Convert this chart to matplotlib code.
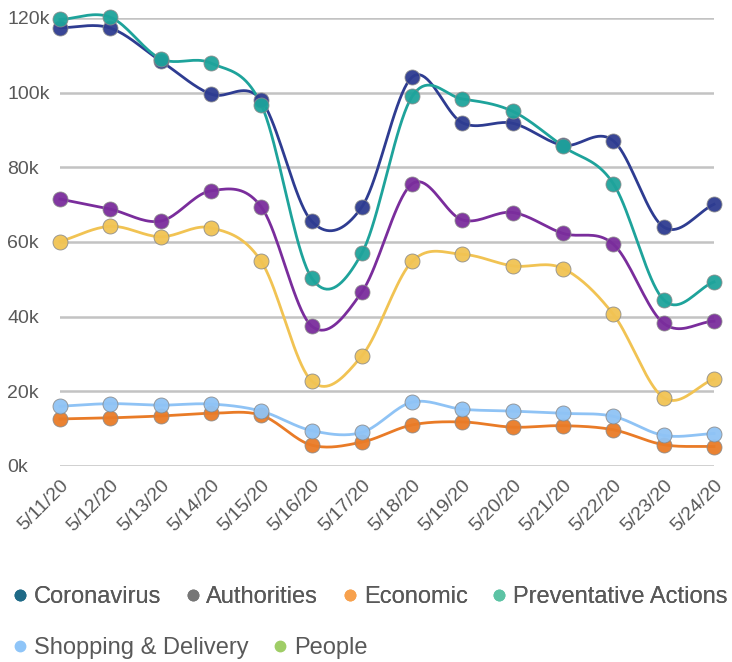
import numpy as np
import matplotlib.pyplot as plt
from matplotlib.lines import Line2D

plt.rcParams['font.family'] = ['Liberation Sans', 'DejaVu Sans']

# ---- data ----
dates = ["5/11/20", "5/12/20", "5/13/20", "5/14/20", "5/15/20", "5/16/20", "5/17/20",
         "5/18/20", "5/19/20", "5/20/20", "5/21/20", "5/22/20", "5/23/20", "5/24/20"]

coronavirus = [117.4, 117.3, 108.5, 99.6, 98.0, 65.6, 69.4, 104.2, 91.9, 91.8, 85.9, 87.1, 64.0, 70.1]
authorities = [71.5, 68.8, 65.6, 73.7, 69.4, 37.5, 46.6, 75.6, 65.9, 67.9, 62.3, 59.4, 38.2, 38.8]
economic = [12.6, 12.9, 13.4, 14.1, 13.6, 5.6, 6.4, 11.0, 11.8, 10.4, 10.8, 9.7, 5.7, 5.2]
preventative = [119.6, 120.2, 109.1, 107.9, 96.8, 50.4, 57.0, 99.0, 98.3, 95.0, 85.6, 75.6, 44.5, 49.3]
shopping = [16.0, 16.7, 16.3, 16.6, 14.7, 9.5, 9.0, 17.1, 15.2, 14.7, 14.1, 13.3, 8.2, 8.7]
people = [60.1, 64.2, 61.4, 63.8, 54.8, 22.8, 29.5, 54.8, 56.7, 53.6, 52.9, 40.6, 18.3, 23.3]

legend_names = ["Coronavirus", "Authorities", "Economic", "Preventative Actions",
                "Shopping & Delivery", "People"]
legend_colors = ["#1f6a87", "#767676", "#f7a14d", "#5cc3a4", "#8fc5f8", "#9fcd66"]

# line colours (drawn order)
series = [
    (economic, "#e97b27"),
    (shopping, "#8fc3f5"),
    (people, "#f1c353"),
    (authorities, "#7a2d9c"),
    (coronavirus, "#2e3c91"),
    (preventative, "#1ea39b"),
]


def smooth(xs, ys, steps=20):
    # catmull-rom curve through the points
    xs = np.asarray(xs, float)
    ys = np.asarray(ys, float)
    px = np.concatenate([[2 * xs[0] - xs[1]], xs, [2 * xs[-1] - xs[-2]]])
    py = np.concatenate([[2 * ys[0] - ys[1]], ys, [2 * ys[-1] - ys[-2]]])
    outx, outy = [], []
    t = np.linspace(0, 1, steps, endpoint=False)
    for i in range(1, len(px) - 2):
        for p, out in ((px, outx), (py, outy)):
            p0, p1, p2, p3 = p[i - 1], p[i], p[i + 1], p[i + 2]
            out.extend(0.5 * ((2 * p1) + (-p0 + p2) * t
                              + (2 * p0 - 5 * p1 + 4 * p2 - p3) * t ** 2
                              + (-p0 + 3 * p1 - 3 * p2 + p3) * t ** 3))
    outx.append(xs[-1])
    outy.append(ys[-1])
    return np.array(outx), np.array(outy)


W, H = 732, 662
fig = plt.figure(figsize=(W / 100, H / 100), dpi=100)
ax = fig.add_axes([60 / W, 1 - 466 / H, (714 - 60) / W, (466 - 18) / H])

x = np.arange(len(dates))
for vals, col in series:
    y = np.array(vals) * 1000
    sx, sy = smooth(x, y)
    ax.plot(sx, sy, color=col, lw=2.0, clip_on=False, zorder=3)
    ax.plot(x, y, 'o', color=col, ms=10.8, mec="#8a8a8a", mew=0.6, alpha=0.95,
            clip_on=False, zorder=4)

ax.set_xlim(0, len(dates) - 1)
ax.set_ylim(0, 120000)
ax.set_yticks(np.arange(0, 120001, 20000))
ax.set_yticklabels([f"{v // 1000}k" for v in range(0, 120001, 20000)])
ax.grid(axis='y', color="#c3c3c3", lw=1.8)
ax.set_axisbelow(True)
for s in ax.spines.values():
    s.set_visible(False)
ax.tick_params(axis='y', length=0, pad=38, labelsize=14, labelcolor="#595959")
for lab in ax.get_yticklabels():
    lab.set_horizontalalignment('left')
ax.set_xticks(x)
ax.set_xticklabels(dates, rotation=45, ha='right', rotation_mode='anchor')
ax.tick_params(axis='x', length=0, pad=8, labelsize=14, labelcolor="#595959")

handles = [Line2D([], [], ls='none', marker='o', ms=7.5, color=c) for c in legend_colors]
common = dict(frameon=False, fontsize=17, handlelength=0.7, handletextpad=0.22,
              columnspacing=1.0, labelcolor="#595959", borderpad=0, borderaxespad=0,
              loc='center left')
leg1 = fig.legend(handles[:4], legend_names[:4], ncol=4,
                  bbox_to_anchor=(12 / W, 1 - 597 / H), **common)
fig.add_artist(leg1)
fig.legend(handles[4:], legend_names[4:], ncol=2,
           bbox_to_anchor=(12 / W, 1 - 648 / H), **common)

fig.savefig("out.png", dpi=100)
